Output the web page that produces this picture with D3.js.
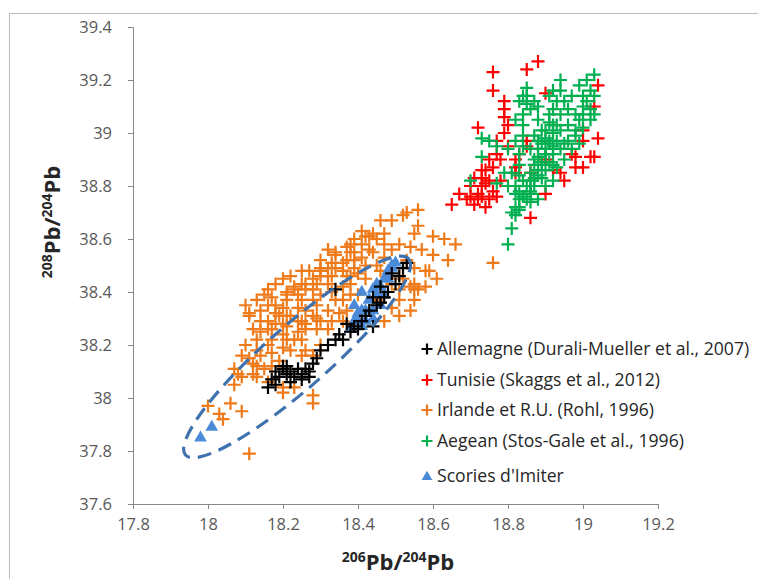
<!DOCTYPE html>
<html><head><meta charset="utf-8">
<script src="https://cdn.jsdelivr.net/npm/d3@7"></script>
<style>body{margin:0;background:#fff}svg{display:block}</style>
</head><body>
<script>
const xTicks=[17.8,18,18.2,18.4,18.6,18.8,19,19.2];
const yTicks=[37.6,37.8,38,38.2,38.4,38.6,38.8,39,39.2,39.4];
const seriesNames=["Allemagne (Durali-Mueller et al., 2007)","Tunisie (Skaggs et al., 2012)","Irlande et R.U. (Rohl, 1996)","Aegean (Stos-Gale et al., 1996)","Scories d'Imiter"];
const allemagne=[[18.16,38.04],[18.17,38.07],[18.18,38.10],[18.20,38.11],[18.21,38.09],[18.22,38.10],[18.24,38.11],[18.25,38.09],[18.26,38.11],[18.28,38.13],[18.29,38.15],[18.30,38.18],[18.32,38.20],[18.34,38.22],[18.35,38.24],[18.19,38.08],[18.22,38.06],[18.25,38.07],[18.27,38.10],[18.20,38.12],[18.36,38.22],[18.38,38.25],[18.39,38.27],[18.41,38.29],[18.42,38.31],[18.43,38.33],[18.45,38.35],[18.46,38.36],[18.47,38.38],[18.48,38.40],[18.50,38.43],[18.51,38.46],[18.52,38.49],[18.53,38.51],[18.49,38.47],[18.34,38.41],[18.44,38.38],[18.46,38.42],[18.40,38.26],[18.37,38.28],[18.44,38.27],[18.18,38.05],[18.23,38.08],[18.21,38.12],[18.27,38.08]];
const tunisie=[[18.76,39.23],[18.76,39.16],[18.85,39.24],[18.88,39.27],[18.90,39.15],[19.04,39.18],[19.03,39.10],[19.04,38.98],[18.72,39.02],[18.79,39.09],[18.79,39.06],[18.79,39.00],[18.80,38.95],[18.77,38.92],[18.78,38.90],[18.76,38.87],[18.74,38.86],[18.73,38.83],[18.74,38.81],[18.73,38.80],[18.72,38.77],[18.70,38.76],[18.69,38.75],[18.73,38.76],[18.75,38.75],[18.77,38.76],[18.74,38.72],[18.76,38.78],[18.78,38.82],[18.75,38.82],[18.82,38.87],[18.82,38.90],[18.83,38.92],[18.85,38.97],[18.85,38.95],[18.82,38.85],[18.86,38.85],[18.90,38.90],[18.92,38.86],[18.94,38.85],[18.95,38.82],[18.97,38.92],[18.98,38.91],[18.98,38.87],[19.00,38.87],[19.02,38.91],[19.03,38.91],[18.90,38.77],[18.86,38.68],[19.00,39.01],[19.00,38.97],[18.70,38.80],[18.71,38.83],[18.73,38.86],[18.75,38.90],[18.77,38.97],[18.80,39.03],[18.72,38.75],[18.71,38.73],[18.79,39.12],[18.65,38.73],[18.67,38.77]];
const irlande=[[18.00,37.97],[18.06,37.98],[18.03,37.94],[18.09,37.95],[18.04,37.92],[18.11,37.79],[18.08,38.09],[18.09,38.08],[18.11,38.15],[18.12,38.13],[18.13,38.18],[18.14,38.25],[18.13,38.08],[18.15,38.11],[18.16,38.06],[18.17,38.22],[18.17,38.17],[18.19,38.14],[18.19,38.31],[18.20,38.19],[18.20,38.04],[18.20,38.28],[18.22,38.18],[18.23,38.22],[18.23,38.04],[18.24,38.25],[18.28,38.01],[18.28,37.98],[18.20,38.02],[18.10,38.35],[18.11,38.32],[18.16,38.29],[18.18,38.32],[18.20,38.34],[18.21,38.37],[18.21,38.40],[18.23,38.42],[18.23,38.41],[18.26,38.43],[18.28,38.41],[18.24,38.34],[18.28,38.37],[18.30,38.46],[18.27,38.48],[18.30,38.48],[18.32,38.49],[18.33,38.40],[18.36,38.42],[18.34,38.55],[18.38,38.58],[18.41,38.63],[18.43,38.61],[18.38,38.46],[18.39,38.49],[18.41,38.53],[18.43,38.56],[18.21,38.27],[18.26,38.28],[18.30,38.29],[18.35,38.32],[18.37,38.57],[18.34,38.54],[18.39,38.55],[18.44,38.55],[18.47,38.53],[18.53,38.52],[18.55,38.49],[18.49,38.34],[18.54,38.33],[18.51,38.31],[18.46,38.67],[18.49,38.67],[18.52,38.69],[18.53,38.70],[18.56,38.71],[18.56,38.65],[18.55,38.62],[18.60,38.61],[18.63,38.60],[18.66,38.58],[18.64,38.52],[18.59,38.48],[18.61,38.45],[18.55,38.41],[18.55,38.43],[18.51,38.37],[18.54,38.57],[18.51,38.58],[18.49,38.56],[18.44,38.62],[18.42,38.61],[18.54,38.42],[18.56,38.41],[18.58,38.42],[18.55,38.37],[18.47,38.29],[18.45,38.37],[18.58,38.48],[18.47,38.62],[18.76,38.51],[18.25,38.37],[18.26,38.33],[18.29,38.35],[18.30,38.39],[18.32,38.43],[18.33,38.46],[18.36,38.48],[18.37,38.52],[18.22,38.31],[18.25,38.29],[18.28,38.31],[18.17,38.26],[18.20,38.24],[18.16,38.20],[18.21,38.22],[18.18,38.35],[18.14,38.29],[18.13,38.22],[18.12,38.26],[18.22,38.46],[18.25,38.48],[18.30,38.52],[18.32,38.56],[18.38,38.43],[18.40,38.39],[18.34,38.37],[18.37,38.33],[18.33,38.29],[18.29,38.26],[18.25,38.22],[18.26,38.18],[18.30,38.20],[18.45,38.50],[18.48,38.45],[18.51,38.41],[18.51,38.46],[18.47,38.58],[18.41,38.58],[18.39,38.60],[18.45,38.60],[18.07,38.05],[18.13,38.37],[18.15,38.39],[18.16,38.41],[18.18,38.43],[18.20,38.45],[18.11,38.31],[18.14,38.33],[18.16,38.35],[18.17,38.38],[18.21,38.39],[18.24,38.39],[18.26,38.41],[18.29,38.43],[18.28,38.45],[18.25,38.43],[18.32,38.46],[18.34,38.49],[18.36,38.51],[18.33,38.51],[18.30,38.49],[18.37,38.46],[18.40,38.47],[18.39,38.52],[18.42,38.50],[18.38,38.55],[18.16,38.26],[18.18,38.28],[18.21,38.31],[18.24,38.29],[18.26,38.26],[18.29,38.30],[18.32,38.33],[18.36,38.37],[18.38,38.39],[18.14,38.16],[18.17,38.12],[18.13,38.12],[18.10,38.20],[18.09,38.16],[18.12,38.09],[18.07,38.11],[18.25,38.16],[18.28,38.16],[18.32,38.26],[18.36,38.29],[18.49,38.43],[18.52,38.45],[18.46,38.48],[18.42,38.45],[18.57,38.56],[18.60,38.54]];
const aegean=[[18.82,38.72],[18.82,38.77],[18.82,38.80],[18.83,38.84],[18.83,38.88],[18.83,38.92],[18.84,38.95],[18.84,38.99],[18.84,39.03],[18.84,39.07],[18.85,39.11],[18.85,39.14],[18.85,39.17],[18.82,39.05],[18.82,38.97],[18.86,39.09],[18.87,39.12],[18.88,39.10],[18.80,38.94],[18.81,38.85],[18.79,38.85],[18.80,38.80],[18.77,38.81],[18.73,38.98],[18.75,38.97],[18.73,38.91],[18.77,38.95],[18.70,38.82],[18.81,38.64],[18.80,38.58],[18.81,38.70],[18.84,38.76],[18.86,38.74],[18.83,38.72],[18.85,38.80],[18.86,38.82],[18.86,38.85],[18.87,38.88],[18.88,38.91],[18.88,38.94],[18.89,38.96],[18.90,38.98],[18.90,39.01],[18.91,39.04],[18.91,39.07],[18.92,39.09],[18.93,39.12],[18.94,39.16],[18.94,39.20],[18.95,39.12],[18.87,38.80],[18.88,38.84],[18.89,38.88],[18.90,38.92],[18.91,38.96],[18.92,39.00],[18.92,39.03],[18.90,38.80],[18.92,38.82],[18.93,38.87],[18.95,38.90],[18.86,38.94],[18.87,38.99],[18.88,39.05],[18.86,38.77],[18.88,38.75],[18.97,38.94],[18.99,38.96],[19.00,39.02],[19.00,39.10],[19.01,39.20],[19.02,39.16],[19.01,39.12],[19.02,39.09],[19.02,39.05],[18.99,39.05],[18.98,39.01],[18.96,38.97],[19.00,39.14],[18.98,39.07],[19.03,39.22],[18.95,38.96],[18.94,38.94],[18.85,38.75],[18.86,38.78],[18.86,38.80],[18.87,38.83],[18.88,38.86],[18.89,38.89],[18.90,38.92],[18.90,38.94],[18.91,38.97],[18.92,39.00],[18.93,39.03],[18.94,39.07],[18.89,38.83],[18.90,38.86],[18.91,38.89],[18.92,38.92],[18.92,38.95],[18.93,38.97],[18.94,39.01],[18.87,38.90],[18.88,38.97],[18.89,39.01],[18.83,38.78],[18.84,38.82],[18.83,38.75],[18.82,38.69],[18.83,38.71],[18.92,38.88],[18.84,39.14],[18.83,39.12],[18.91,39.14],[18.92,39.16],[18.96,39.09],[18.97,39.14],[18.99,39.18],[19.03,39.14],[19.03,39.07],[19.00,39.07],[18.96,39.03],[18.98,38.99]];
const scories=[[17.98,37.85],[18.01,37.89],[18.38,38.26],[18.40,38.29],[18.41,38.33],[18.39,38.35],[18.43,38.37],[18.44,38.41],[18.45,38.43],[18.47,38.45],[18.48,38.48],[18.49,38.50],[18.42,38.29],[18.44,38.33],[18.47,38.39],[18.41,38.40],[18.39,38.29],[18.40,38.32],[18.42,38.33],[18.43,38.37],[18.45,38.39],[18.46,38.42],[18.48,38.45],[18.49,38.49],[18.50,38.51],[18.41,38.27],[18.44,38.30],[18.46,38.35]];
// ellipse annotation: major axis tips (data units) and minor/major ratio
const ellipseTips=[[17.94,37.785],[18.535,38.525]];
const ellipseRatio=0.21;

const W=758,H=579;
const svg=d3.select("body").append("svg").attr("width",W).attr("height",H);
svg.append("rect").attr("x",9.5).attr("y",13.5).attr("width",800).attr("height",700).attr("fill","#fff").attr("stroke","#bdbdbd");
const x=d3.scaleLinear().domain([17.8,19.2]).range([133,658]);
const y=d3.scaleLinear().domain([37.6,39.4]).range([504,27]);
const font="'Open Sans','Liberation Sans',sans-serif";
const axisColor="#868686";

const gx=svg.append("g").attr("transform","translate(0,504)").call(d3.axisBottom(x).tickValues(xTicks).tickFormat(d3.format("")).tickSize(5).tickPadding(9));
const gy=svg.append("g").attr("transform","translate(133,0)").call(d3.axisLeft(y).tickValues(yTicks).tickFormat(d3.format("")).tickSize(5).tickPadding(16));
[gx,gy].forEach(g=>{g.selectAll("path,line").attr("stroke",axisColor);g.selectAll("text").attr("fill","#595959").style("font-family",font).style("font-size","16.5px");});

const cross="M-6.5,0H6.5M0,-6.5V6.5";
function crosses(data,color){
  svg.append("g").selectAll("path").data(data).join("path")
   .attr("d",cross).attr("transform",d=>`translate(${x(d[0])},${y(d[1])})`)
   .attr("stroke",color).attr("stroke-width",2.2).attr("fill","none");
}
const colors=["#000000","#ff0000","#ee7a1a","#00b050","#4a8ad8"];
crosses(irlande,colors[2]);
crosses(tunisie,colors[1]);
crosses(aegean,colors[3]);
const tri=d3.symbol().type(d3.symbolTriangle).size(70);
svg.append("g").selectAll("path").data(scories).join("path").attr("d",tri)
  .attr("transform",d=>`translate(${x(d[0])},${y(d[1])})`).attr("fill",colors[4]);
crosses(allemagne,colors[0]);

// ellipse
{
  const p1=[x(ellipseTips[0][0]),y(ellipseTips[0][1])],p2=[x(ellipseTips[1][0]),y(ellipseTips[1][1])];
  const cx=(p1[0]+p2[0])/2,cy=(p1[1]+p2[1])/2;
  const a=Math.hypot(p2[0]-p1[0],p2[1]-p1[1])/2,b=a*ellipseRatio;
  const ang=Math.atan2(p2[1]-p1[1],p2[0]-p1[0])*180/Math.PI;
  svg.append("ellipse").attr("cx",cx).attr("cy",cy).attr("rx",a).attr("ry",b)
    .attr("transform",`rotate(${ang},${cx},${cy})`)
    .attr("fill","none").attr("stroke","#3f72ae").attr("stroke-width",3.2).attr("stroke-dasharray","14,8");
}

// legend
const legY=[349,380,410,441,476];
const lg=svg.append("g");
seriesNames.forEach((n,i)=>{
  if(i<4) lg.append("path").attr("d","M-5.5,0H5.5M0,-5.5V5.5").attr("transform",`translate(427,${legY[i]})`).attr("stroke",colors[i]).attr("stroke-width",2.2);
  else lg.append("path").attr("d",d3.symbol().type(d3.symbolTriangle).size(50)()).attr("transform",`translate(427,${legY[i]+1})`).attr("fill",colors[4]);
  lg.append("text").attr("x",437).attr("y",legY[i]).attr("dy","0.35em").text(n)
    .style("font-family",font).style("font-size","17.6px").attr("fill","#262626");
});

// axis titles
const xt=svg.append("text").attr("x",398).attr("y",570).attr("text-anchor","middle")
  .style("font-family",font).style("font-weight","bold").style("font-size","22px").attr("fill","#262626");
xt.append("tspan").text("206").style("font-size","14px").attr("dy","-8");
xt.append("tspan").text("Pb/").attr("dy","8");
xt.append("tspan").text("204").style("font-size","14px").attr("dy","-8");
xt.append("tspan").text("Pb").attr("dy","8");
const yt=svg.append("text").attr("transform","translate(60,222) rotate(-90)").attr("text-anchor","middle")
  .style("font-family",font).style("font-weight","bold").style("font-size","22px").attr("fill","#262626");
yt.append("tspan").text("208").style("font-size","14px").attr("dy","-8");
yt.append("tspan").text("Pb/").attr("dy","8");
yt.append("tspan").text("204").style("font-size","14px").attr("dy","-8");
yt.append("tspan").text("Pb").attr("dy","8");
</script>
</body></html>
